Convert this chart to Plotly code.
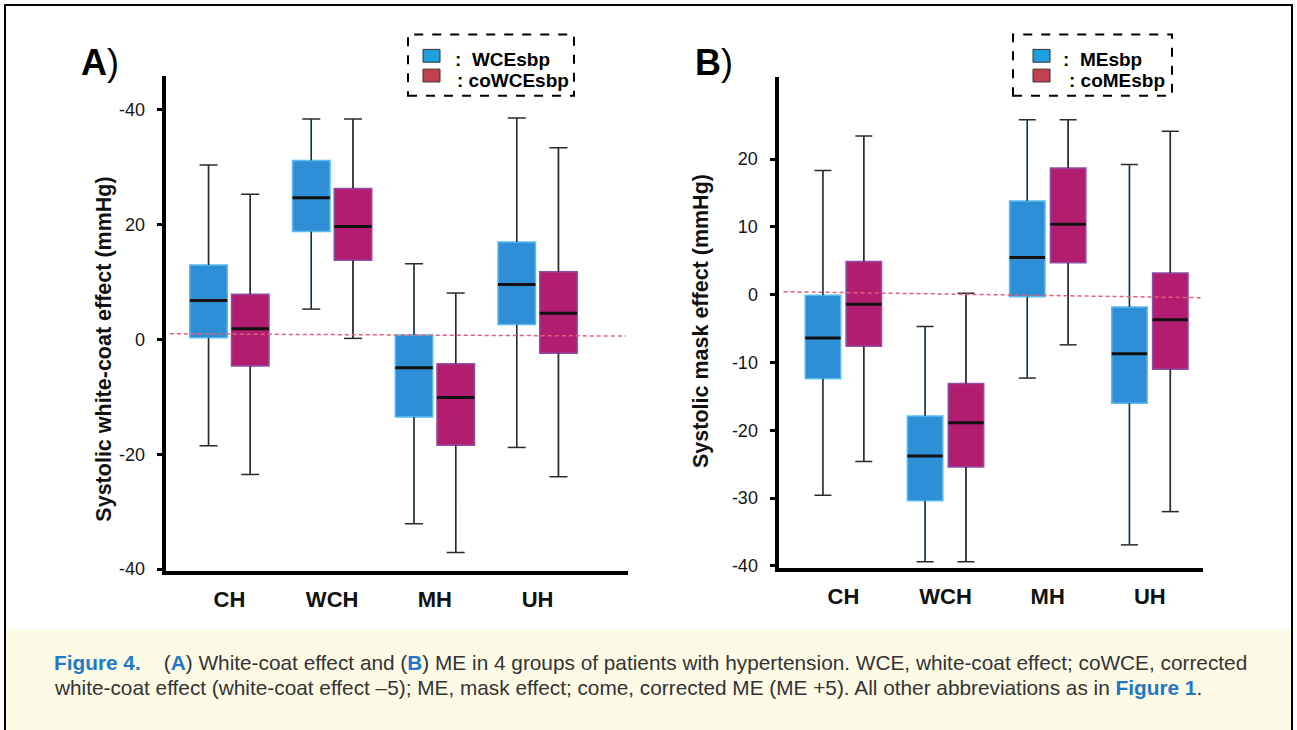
import plotly.graph_objects as go

# ---------------- data ----------------
categories = ["CH", "WCH", "MH", "UH"]

# Panel A: systolic white-coat effect (mmHg)
wce_upper = [30.4, 38.4, 13.2, 38.6]
wce_q3 = [13.0, 31.2, 0.8, 17.0]
wce_median = [6.8, 24.7, -4.9, 9.6]
wce_q1 = [0.3, 18.8, -13.5, 2.6]
wce_lower = [-18.5, 5.3, -32.1, -18.8]

cowce_upper = [25.3, 38.4, 8.1, 33.4]
cowce_q3 = [7.9, 26.3, -4.2, 11.8]
cowce_median = [1.9, 19.7, -10.1, 4.6]
cowce_q1 = [-4.6, 13.8, -18.4, -2.4]
cowce_lower = [-23.5, 0.2, -37.1, -23.9]

# Panel B: systolic mask effect (mmHg)
me_upper = [18.3, -4.7, 25.8, 19.2]
me_q3 = [-0.1, -17.9, 13.8, -1.8]
me_median = [-6.4, -23.8, 5.5, -8.7]
me_q1 = [-12.4, -30.4, -0.3, -16.0]
me_lower = [-29.6, -39.4, -12.3, -36.9]

come_upper = [23.4, 0.2, 25.8, 24.1]
come_q3 = [4.9, -13.1, 18.7, 3.2]
come_median = [-1.4, -18.9, 10.4, -3.7]
come_q1 = [-7.6, -25.4, 4.7, -11.0]
come_lower = [-24.6, -39.4, -7.4, -32.0]

ticks_a_vals = [40, 20, 0, -20, -40]
ticks_a_text = ["-40", "20", "0", "-20", "-40"]
ticks_b_vals = [20, 10, 0, -10, -20, -30, -40]
ticks_b_text = ["20", "10", "0", "-10", "-20", "-30", "-40"]

ref_line_a = [1.0, 0.6]     # dashed reference line (start, end)
ref_line_b = [0.44, -0.45]

legend_a = ["WCEsbp", "coWCEsbp"]
legend_b = ["MEsbp", "coMEsbp"]

# ---------------- styles ----------------
BLUE_FILL, BLUE_EDGE = "#2e8ed6", "#58bcef"
RED_FILL, RED_EDGE = "#b31d6f", "#8f4fa6"
BLUE_SW, RED_SW = "#1e9fe0", "#c2404f"
FONT = "Liberation Sans, Arial, Helvetica, sans-serif"
W, H = 1297, 730

xa_range = [-0.62, 3.88]
xb_range = [-0.635, 3.52]
ya_range = [-40.3, 45.9]
yb_range = [-40.3, 32.1]

fig = go.Figure()


def add_series(xs, q1, med, q3, lo, hi, fill, edge, width, xax, yax):
    fig.add_trace(go.Box(
        x=xs, q1=q1, median=med, q3=q3, lowerfence=lo, upperfence=hi,
        width=width, fillcolor=fill, line=dict(color=edge, width=1.5),
        whiskerwidth=0, boxpoints=False, hoverinfo="skip", showlegend=False,
        xaxis=xax, yaxis=yax))
    capw = 0.48 * width
    wx, wy, mx, my = [], [], [], []
    for x, a, m, b, l, h in zip(xs, q1, med, q3, lo, hi):
        wx += [x, x, None, x, x, None,
               x - capw / 2, x + capw / 2, None, x - capw / 2, x + capw / 2, None]
        wy += [b, h, None, a, l, None, h, h, None, l, l, None]
        mx += [x - width / 2, x + width / 2, None]
        my += [m, m, None]
    fig.add_trace(go.Scatter(x=wx, y=wy, mode="lines",
                             line=dict(color="#2a2a2a", width=1.5),
                             hoverinfo="skip", showlegend=False,
                             xaxis=xax, yaxis=yax))
    fig.add_trace(go.Scatter(x=mx, y=my, mode="lines",
                             line=dict(color="#111111", width=3),
                             hoverinfo="skip", showlegend=False,
                             xaxis=xax, yaxis=yax))


idx = list(range(len(categories)))
da, wa = 0.203, 0.365
db, wb = 0.200, 0.347

add_series([i - da for i in idx], wce_q1, wce_median, wce_q3, wce_lower, wce_upper,
           BLUE_FILL, BLUE_EDGE, wa, "x", "y")
add_series([i + da for i in idx], cowce_q1, cowce_median, cowce_q3, cowce_lower, cowce_upper,
           RED_FILL, RED_EDGE, wa, "x", "y")
add_series([i - db for i in idx], me_q1, me_median, me_q3, me_lower, me_upper,
           BLUE_FILL, BLUE_EDGE, wb, "x2", "y2")
add_series([i + db for i in idx], come_q1, come_median, come_q3, come_lower, come_upper,
           RED_FILL, RED_EDGE, wb, "x2", "y2")

# dashed reference lines near zero
fig.add_trace(go.Scatter(x=[xa_range[0] + 0.04, xa_range[1] - 0.02], y=ref_line_a,
                         mode="lines", line=dict(color="#e0607a", width=1.5, dash="4px,3px"),
                         hoverinfo="skip", showlegend=False, xaxis="x", yaxis="y"))
fig.add_trace(go.Scatter(x=[xb_range[0] + 0.05, xb_range[1]], y=ref_line_b,
                         mode="lines", line=dict(color="#e0607a", width=1.5, dash="4px,3px"),
                         hoverinfo="skip", showlegend=False, xaxis="x2", yaxis="y2"))


def px(x):
    return x / W


def py(y):
    return 1 - y / H


yaxis_common = dict(showline=True, linewidth=4, linecolor="black", ticks="outside",
                    ticklen=5, tickwidth=3, tickcolor="black", showgrid=False,
                    zeroline=False, tickfont=dict(family=FONT, size=18, color="#151515"),
                    ticklabelstandoff=8)
xaxis_common = dict(showline=True, linewidth=4, linecolor="black", ticks="",
                    showgrid=False, zeroline=False, tickvals=idx,
                    ticktext=["<b>%s</b>" % c for c in categories],
                    tickfont=dict(family=FONT, size=22, color="#111"),
                    ticklabelstandoff=6)

shapes = []
# figure border and caption background
shapes.append(dict(type="rect", xref="paper", yref="paper", x0=px(6), x1=px(1291),
                   y0=py(740), y1=py(637), fillcolor="#fdfae5", line=dict(width=0),
                   layer="below"))
shapes.append(dict(type="rect", xref="paper", yref="paper", x0=px(5), x1=px(1292),
                   y0=py(745), y1=py(5), line=dict(color="black", width=2)))
# legend boxes
for (x0, x1) in [(408, 574), (1013, 1172)]:
    shapes.append(dict(type="rect", xref="paper", yref="paper", x0=px(x0), x1=px(x1),
                       y0=py(97), y1=py(35), line=dict(color="black", width=2, dash="dash")))
for sx in [423, 1033]:
    shapes.append(dict(type="rect", xref="paper", yref="paper", x0=px(sx), x1=px(sx + 17),
                       y0=py(63), y1=py(50), fillcolor=BLUE_SW, line=dict(color="#333", width=1)))
    shapes.append(dict(type="rect", xref="paper", yref="paper", x0=px(sx), x1=px(sx + 17),
                       y0=py(83), y1=py(70), fillcolor=RED_SW, line=dict(color="#333", width=1)))

ann = []
lf = dict(family=FONT, size=19, color="black")
ann.append(dict(x=px(453), y=py(60), text="<b>:&nbsp; %s</b>" % legend_a[0]))
ann.append(dict(x=px(455), y=py(82), text="<b>: %s</b>" % legend_a[1]))
ann.append(dict(x=px(1061), y=py(60), text="<b>:&nbsp; %s</b>" % legend_b[0]))
ann.append(dict(x=px(1067), y=py(82), text="<b>: %s</b>" % legend_b[1]))
for a in ann:
    a.update(xref="paper", yref="paper", xanchor="left", yanchor="middle",
             showarrow=False, font=lf)

# panel letters
for letter, x in [("A", 79), ("B", 693)]:
    ann.append(dict(x=px(x), y=py(63), xref="paper", yref="paper", xanchor="left",
                    yanchor="middle", showarrow=False, text="<b>%s</b>)" % letter,
                    font=dict(family=FONT, size=36, color="black")))

# axis titles
ann.append(dict(x=px(90), y=py(354), xref="paper", yref="paper", textangle=-90,
                showarrow=False, text="<b>Systolic white-coat effect (mmHg)</b>",
                font=dict(family=FONT, size=21.5, color="#111")))
ann.append(dict(x=px(701), y=py(325), xref="paper", yref="paper", textangle=-90,
                showarrow=False, text="<b>Systolic mask effect (mmHg)</b>",
                font=dict(family=FONT, size=21.5, color="#111")))

# caption
BL = "#1f78c8"
line1 = ('<b><span style="color:%s">Figure 4.</span></b>&nbsp;&nbsp;&nbsp;&nbsp;'
         '(<b><span style="color:%s">A</span></b>) White-coat effect and '
         '(<b><span style="color:%s">B</span></b>) ME in 4 groups of patients with '
         'hypertension. WCE, white-coat effect; coWCE, corrected') % (BL, BL, BL)
line2 = ('white-coat effect (white-coat effect \u20135); ME, mask effect; come, corrected ME '
         '(ME +5). All other abbreviations as in <b><span style="color:%s">Figure 1</span></b>.') % BL
for t, y in [(line1, 671), (line2, 696)]:
    ann.append(dict(x=px(52), y=py(y), xref="paper", yref="paper", xanchor="left",
                    yanchor="middle", showarrow=False, text=t,
                    font=dict(family=FONT, size=20.8, color="#333")))

fig.update_layout(
    width=W, height=H, autosize=False,
    margin=dict(l=0, r=0, t=0, b=0),
    paper_bgcolor="white", plot_bgcolor="rgba(0,0,0,0)",
    showlegend=False, boxmode="overlay",
    xaxis=dict(domain=[px(165.7), px(628)], range=xa_range, anchor="y", **xaxis_common),
    yaxis=dict(domain=[py(578), py(77)], range=ya_range, anchor="x",
               tickvals=ticks_a_vals, ticktext=ticks_a_text, **yaxis_common),
    xaxis2=dict(domain=[px(778.5), px(1203)], range=xb_range, anchor="y2", **xaxis_common),
    yaxis2=dict(domain=[py(575), py(78)], range=yb_range, anchor="x2",
                tickvals=ticks_b_vals, ticktext=ticks_b_text, **yaxis_common),
    shapes=shapes, annotations=ann,
)

fig.write_html("out.html", config={"displayModeBar": False},
               post_script="document.body.style.margin='0';")
